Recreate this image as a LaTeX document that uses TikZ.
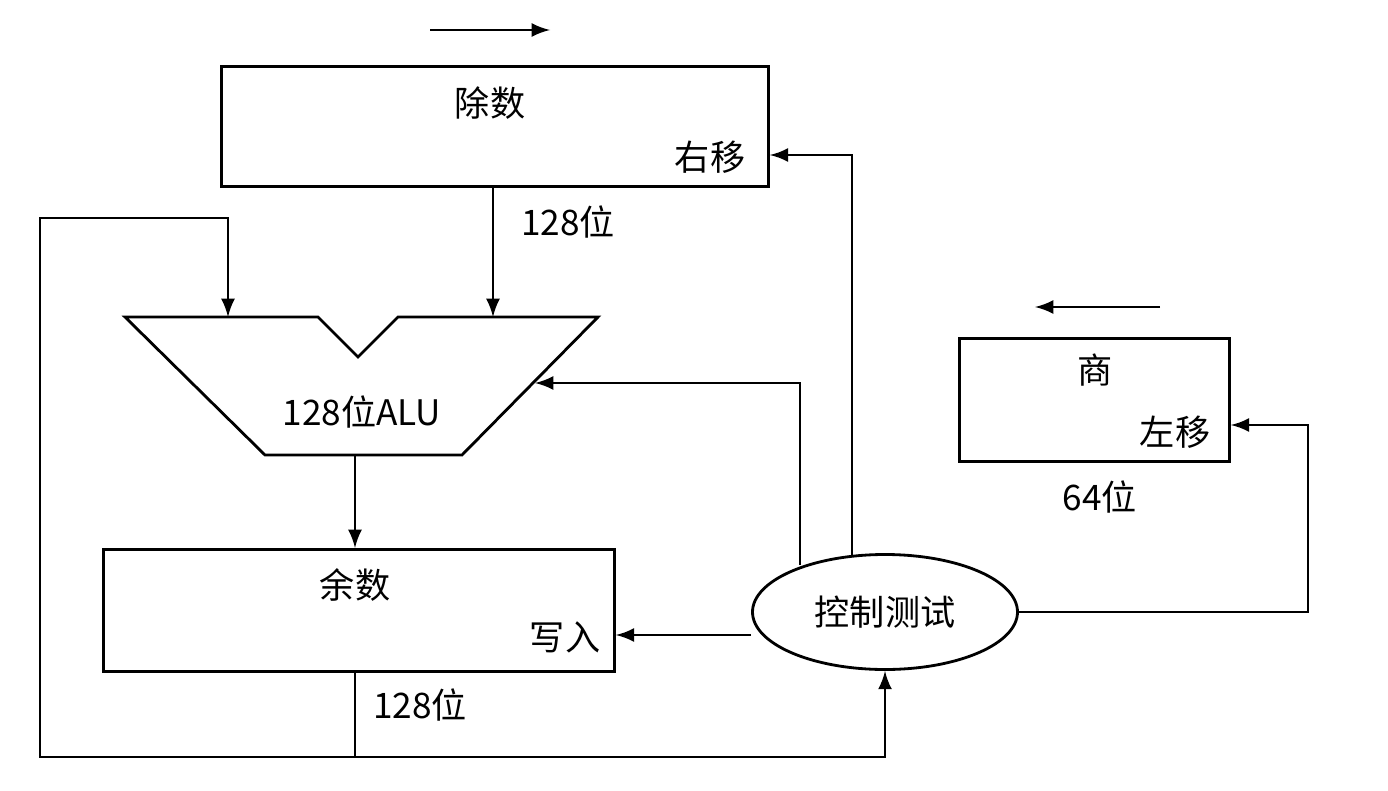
\documentclass[tikz,border=0pt]{standalone}
\usepackage{fontspec}
\setmainfont{Noto Sans CJK SC}
\usetikzlibrary{shapes.geometric}

\begin{document}
\begin{tikzpicture}[
	reg/.style={draw, rectangle, anchor=north west, inner sep=0pt},
	lbl/.style={inner sep=0pt},
	ctrl/.style={draw, ellipse, minimum width=2.65cm, minimum height=1.15cm, inner sep=0pt},
	>=latex, thick, font=\fontsize{10}{12}\selectfont
	]
	\useasboundingbox (0,0) rectangle (13.88,7.9);
	
	%-----------------------
	% Registers
	%-----------------------
	\node[reg, minimum width=5.47cm, minimum height=1.2cm] (Div) at (2.2,7.25) {};
	\node[lbl] at (4.9,6.87) {除数};
	\node[lbl] (DivR) at (7.1,6.33) {右移};
	
	\node[reg, minimum width=5.11cm, minimum height=1.22cm] (Rem) at (1.02,2.42) {};
	\node[lbl] at (3.55,2.05) {余数};
	\node[lbl] at (5.65,1.53) {写入};
	
	\node[reg, minimum width=2.7cm, minimum height=1.23cm] (Quo) at (9.58,4.53) {};
	\node[lbl] at (10.95,4.2) {商};
	\node[lbl] at (11.75,3.58) {左移};
	
	%-----------------------
	% ALU
	%-----------------------
	\draw (1.25,4.73) -- (3.18,4.73) -- (3.58,4.33) -- (3.98,4.73) -- (5.98,4.73)
	      -- (4.62,3.35) -- (2.65,3.35) -- cycle;
	\coordinate (AluIn1) at (2.28,4.73);
	\coordinate (AluIn2) at (4.93,4.73);
	\coordinate (AluOut) at (3.55,3.35);
	\coordinate (AluR) at (5.35,4.07);
	\node[lbl] at (3.62,3.78) {128位ALU};
	
	%-----------------------
	% Control
	%-----------------------
	\node[ctrl] (Ctl) at (8.85,1.78) {控制测试};
	
	%-----------------------
	% Labels
	%-----------------------
	\node[lbl] at (5.68,5.68) {128位};
	\node[lbl] at (4.2,0.85) {128位};
	\node[lbl] at (11.0,2.93) {64位};
	
	%-----------------------
	% Direction arrows
	%-----------------------
	\coordinate (ra1) at (4.3,7.6);  \coordinate (ra2) at (5.5,7.6);
	\coordinate (la1) at (11.6,4.83); \coordinate (la2) at (10.35,4.83);
	\draw[->] (ra1) -- (ra2);
	\draw[->] (la1) -- (la2);
	
	%-----------------------
	% Connections
	%-----------------------
	\draw[->] (Div.south -| AluIn2) -- (AluIn2);
	\draw[->] (AluOut) -- (Rem.north -| AluOut);
	\coordinate (Tap) at (Rem.south -| AluOut);
	\coordinate (Bot) at (3.55,0.33);
	\draw (Tap) -- (Bot);
	\draw[->] (Bot) -- (0.4,0.33) -- (0.4,5.72) -- (2.28,5.72) -- (AluIn1);
	\draw[->] (Bot) -- (8.85,0.33) -- (Ctl.south);
	\draw[->] (Ctl.west |- 0,1.55) -- (Rem.east |- 0,1.55);
	\draw[->] (8.0,2.25) -- (8.0,4.07) -- (AluR);
	\draw[->] (8.52,2.33) -- (8.52,6.35) -- (Div.east |- 0,6.35);
	\draw[->] (Ctl.east) -- (13.08,1.78) -- (13.08,3.65) -- (Quo.east |- 0,3.65);
	
\end{tikzpicture}
\end{document}
